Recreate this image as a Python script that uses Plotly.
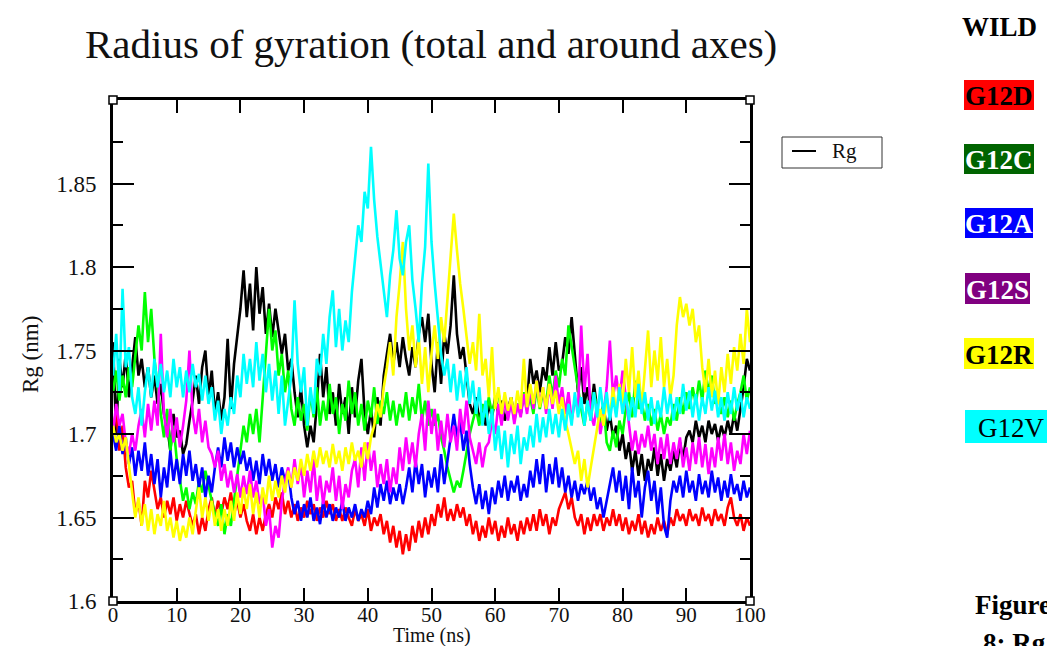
import plotly.graph_objects as go

# ---------------- data (0.5 ns sampling) ----------------
time_ns = [i * 0.5 for i in range(201)]

wild = [
    1.755, 1.700, 1.745, 1.728, 1.748, 1.722, 1.740, 1.758, 1.735, 1.745,
    1.728, 1.740, 1.722, 1.735, 1.718, 1.730, 1.712, 1.705, 1.690, 1.712,
    1.698, 1.702, 1.688, 1.694, 1.708, 1.720, 1.735, 1.718, 1.740, 1.750,
    1.722, 1.738, 1.712, 1.725, 1.708, 1.722, 1.757, 1.715, 1.742, 1.760,
    1.775, 1.798, 1.770, 1.790, 1.762, 1.800, 1.772, 1.788, 1.760, 1.778,
    1.758, 1.775, 1.762, 1.748, 1.760, 1.738, 1.745, 1.725, 1.710, 1.728,
    1.705, 1.692, 1.705, 1.695, 1.718, 1.748, 1.722, 1.740, 1.712, 1.725,
    1.705, 1.730, 1.712, 1.722, 1.700, 1.728, 1.710, 1.732, 1.745, 1.712,
    1.700, 1.715, 1.698, 1.722, 1.705, 1.735, 1.748, 1.760, 1.742, 1.755,
    1.740, 1.758, 1.745, 1.735, 1.752, 1.740, 1.760, 1.770, 1.755, 1.772,
    1.742, 1.725, 1.755, 1.730, 1.760, 1.748, 1.765, 1.795, 1.760, 1.745,
    1.752, 1.735, 1.718, 1.712, 1.722, 1.708, 1.716, 1.705, 1.718, 1.710,
    1.722, 1.712, 1.720, 1.708, 1.715, 1.722, 1.710, 1.718, 1.712, 1.725,
    1.718, 1.745, 1.730, 1.738, 1.725, 1.740, 1.732, 1.752, 1.735, 1.755,
    1.738, 1.742, 1.758, 1.748, 1.770, 1.745, 1.725, 1.740, 1.718, 1.728,
    1.712, 1.730, 1.715, 1.708, 1.718, 1.702, 1.712, 1.698, 1.705, 1.690,
    1.700, 1.685, 1.695, 1.678, 1.690, 1.675, 1.688, 1.672, 1.685, 1.678,
    1.692, 1.675, 1.688, 1.672, 1.685, 1.678, 1.690, 1.680, 1.695, 1.685,
    1.698, 1.702, 1.695, 1.708, 1.698, 1.705, 1.695, 1.708, 1.700, 1.706,
    1.696, 1.705, 1.698, 1.708, 1.700, 1.712, 1.702, 1.715, 1.728, 1.745,
    1.738,
]

g12d = [
    1.700, 1.715, 1.690, 1.705, 1.680, 1.668, 1.672, 1.652, 1.660, 1.645,
    1.672, 1.662, 1.678, 1.665, 1.655, 1.662, 1.650, 1.660, 1.652, 1.662,
    1.648, 1.658, 1.650, 1.660, 1.652, 1.645, 1.652, 1.640, 1.650, 1.642,
    1.655, 1.662, 1.650, 1.660, 1.652, 1.662, 1.655, 1.665, 1.652, 1.660,
    1.650, 1.658, 1.648, 1.642, 1.652, 1.640, 1.650, 1.642, 1.652, 1.658,
    1.650, 1.662, 1.655, 1.665, 1.652, 1.660, 1.650, 1.658, 1.648, 1.656,
    1.650, 1.660, 1.652, 1.658, 1.648, 1.656, 1.650, 1.660, 1.652, 1.658,
    1.648, 1.655, 1.648, 1.656, 1.650, 1.645, 1.655, 1.648, 1.652, 1.645,
    1.655, 1.642, 1.650, 1.645, 1.652, 1.640, 1.648, 1.635, 1.645, 1.632,
    1.642, 1.628, 1.640, 1.630, 1.645, 1.635, 1.648, 1.638, 1.650, 1.640,
    1.652, 1.645, 1.658, 1.650, 1.662, 1.648, 1.655, 1.648, 1.658, 1.650,
    1.656, 1.645, 1.652, 1.640, 1.648, 1.636, 1.645, 1.638, 1.650, 1.640,
    1.648, 1.636, 1.645, 1.638, 1.650, 1.640, 1.646, 1.636, 1.648, 1.640,
    1.650, 1.642, 1.652, 1.642, 1.655, 1.645, 1.652, 1.640, 1.650, 1.645,
    1.655, 1.660, 1.665, 1.655, 1.662, 1.650, 1.645, 1.652, 1.640, 1.650,
    1.642, 1.652, 1.645, 1.652, 1.642, 1.650, 1.645, 1.655, 1.645, 1.652,
    1.642, 1.650, 1.640, 1.648, 1.642, 1.652, 1.640, 1.648, 1.638, 1.646,
    1.640, 1.650, 1.642, 1.648, 1.640, 1.650, 1.645, 1.655, 1.648, 1.652,
    1.645, 1.655, 1.648, 1.652, 1.645, 1.656, 1.648, 1.652, 1.645, 1.655,
    1.648, 1.652, 1.645, 1.656, 1.662, 1.650, 1.645, 1.652, 1.642, 1.650,
    1.645,
]

g12c = [
    1.725, 1.738, 1.720, 1.735, 1.722, 1.740, 1.728, 1.745, 1.765, 1.750,
    1.785, 1.755, 1.775, 1.745, 1.728, 1.712, 1.698, 1.715, 1.690, 1.705,
    1.685, 1.672, 1.660, 1.668, 1.655, 1.665, 1.658, 1.672, 1.665, 1.678,
    1.668, 1.660, 1.652, 1.645, 1.658, 1.640, 1.652, 1.645, 1.660, 1.675,
    1.690, 1.705, 1.695, 1.712, 1.700, 1.715, 1.695, 1.725, 1.748, 1.775,
    1.750, 1.762, 1.735, 1.748, 1.725, 1.738, 1.715, 1.705, 1.722, 1.708,
    1.718, 1.702, 1.725, 1.710, 1.728, 1.705, 1.720, 1.708, 1.730, 1.712,
    1.722, 1.700, 1.718, 1.708, 1.732, 1.712, 1.725, 1.705, 1.718, 1.702,
    1.720, 1.710, 1.728, 1.706, 1.720, 1.712, 1.725, 1.708, 1.720, 1.705,
    1.718, 1.710, 1.725, 1.708, 1.722, 1.712, 1.730, 1.708, 1.720, 1.705,
    1.715, 1.705, 1.712, 1.698, 1.690, 1.680, 1.672, 1.665, 1.672, 1.668,
    1.678, 1.690, 1.700, 1.708, 1.715, 1.705, 1.718, 1.710, 1.722, 1.712,
    1.720, 1.725, 1.712, 1.722, 1.710, 1.720, 1.708, 1.718, 1.712, 1.725,
    1.715, 1.722, 1.712, 1.728, 1.715, 1.725, 1.718, 1.735, 1.722, 1.738,
    1.728, 1.745, 1.735, 1.765, 1.752, 1.740, 1.725, 1.715, 1.705, 1.720,
    1.708, 1.725, 1.715, 1.705, 1.718, 1.695, 1.690, 1.702, 1.692, 1.708,
    1.700, 1.715, 1.725, 1.710, 1.732, 1.715, 1.720, 1.708, 1.718, 1.705,
    1.715, 1.702, 1.712, 1.700, 1.710, 1.705, 1.718, 1.708, 1.722, 1.712,
    1.725, 1.715, 1.728, 1.718, 1.732, 1.720, 1.738, 1.725, 1.735, 1.718,
    1.725, 1.712, 1.722, 1.710, 1.720, 1.708, 1.718, 1.725, 1.735, 1.720,
    1.728,
]

g12a = [
    1.700, 1.690, 1.705, 1.688, 1.698, 1.682, 1.692, 1.675, 1.690, 1.678,
    1.695, 1.675, 1.688, 1.670, 1.685, 1.662, 1.680, 1.668, 1.690, 1.672,
    1.685, 1.670, 1.688, 1.675, 1.690, 1.672, 1.682, 1.668, 1.680, 1.662,
    1.675, 1.665, 1.680, 1.692, 1.680, 1.698, 1.684, 1.695, 1.680, 1.692,
    1.682, 1.690, 1.678, 1.686, 1.672, 1.684, 1.670, 1.688, 1.675, 1.685,
    1.672, 1.682, 1.668, 1.680, 1.672, 1.678, 1.662, 1.652, 1.660, 1.648,
    1.658, 1.650, 1.662, 1.648, 1.656, 1.646, 1.660, 1.650, 1.658, 1.648,
    1.656, 1.650, 1.660, 1.648, 1.656, 1.650, 1.658, 1.648, 1.655, 1.650,
    1.660, 1.652, 1.668, 1.656, 1.670, 1.660, 1.672, 1.658, 1.668, 1.660,
    1.670, 1.658, 1.668, 1.680, 1.665, 1.684, 1.670, 1.682, 1.662, 1.678,
    1.668, 1.680, 1.665, 1.688, 1.670, 1.684, 1.695, 1.712, 1.698, 1.708,
    1.690, 1.702, 1.682, 1.668, 1.658, 1.670, 1.655, 1.666, 1.652, 1.668,
    1.658, 1.672, 1.662, 1.675, 1.660, 1.672, 1.665, 1.675, 1.660, 1.670,
    1.662, 1.678, 1.668, 1.685, 1.670, 1.688, 1.665, 1.682, 1.670, 1.686,
    1.668, 1.680, 1.665, 1.675, 1.662, 1.672, 1.660, 1.670, 1.664, 1.672,
    1.660, 1.668, 1.655, 1.662, 1.650, 1.660, 1.668, 1.680, 1.665, 1.678,
    1.660, 1.675, 1.655, 1.680, 1.662, 1.672, 1.650, 1.668, 1.678, 1.660,
    1.672, 1.652, 1.668, 1.645, 1.638, 1.660, 1.672, 1.665, 1.675, 1.662,
    1.678, 1.665, 1.672, 1.660, 1.676, 1.664, 1.672, 1.662, 1.678, 1.665,
    1.674, 1.660, 1.672, 1.662, 1.676, 1.664, 1.670, 1.660, 1.672, 1.662,
    1.668,
]

g12s = [
    1.700, 1.718, 1.705, 1.712, 1.695, 1.688, 1.700, 1.690, 1.705, 1.715,
    1.698, 1.718, 1.702, 1.720, 1.705, 1.760, 1.712, 1.698, 1.715, 1.695,
    1.710, 1.692, 1.705, 1.720, 1.750, 1.712, 1.700, 1.715, 1.695, 1.708,
    1.692, 1.688, 1.680, 1.690, 1.672, 1.682, 1.668, 1.678, 1.665, 1.676,
    1.662, 1.675, 1.664, 1.678, 1.662, 1.672, 1.658, 1.665, 1.645, 1.655,
    1.632, 1.645, 1.638, 1.660, 1.672, 1.680, 1.668, 1.685, 1.670, 1.682,
    1.662, 1.678, 1.665, 1.685, 1.660, 1.675, 1.658, 1.672, 1.665, 1.680,
    1.660, 1.675, 1.655, 1.670, 1.662, 1.678, 1.685, 1.668, 1.692, 1.672,
    1.695, 1.678, 1.690, 1.668, 1.682, 1.670, 1.685, 1.665, 1.680, 1.670,
    1.692, 1.678, 1.698, 1.682, 1.695, 1.680, 1.700, 1.712, 1.690, 1.720,
    1.700, 1.715, 1.690, 1.708, 1.692, 1.712, 1.695, 1.705, 1.690, 1.715,
    1.700, 1.720, 1.698, 1.690, 1.682, 1.695, 1.680, 1.692, 1.695, 1.708,
    1.700, 1.718, 1.705, 1.722, 1.708, 1.720, 1.706, 1.718, 1.710, 1.724,
    1.712, 1.728, 1.715, 1.732, 1.718, 1.728, 1.712, 1.730, 1.715, 1.735,
    1.718, 1.728, 1.712, 1.725, 1.708, 1.720, 1.715, 1.765, 1.725, 1.748,
    1.712, 1.705, 1.718, 1.700, 1.712, 1.728, 1.756, 1.722, 1.735, 1.720,
    1.738, 1.722, 1.705, 1.690, 1.702, 1.688, 1.700, 1.692, 1.705, 1.690,
    1.700, 1.682, 1.698, 1.685, 1.700, 1.682, 1.695, 1.685, 1.698, 1.680,
    1.692, 1.678, 1.695, 1.682, 1.698, 1.680, 1.694, 1.676, 1.692, 1.680,
    1.698, 1.684, 1.700, 1.682, 1.695, 1.678, 1.690, 1.682, 1.700, 1.688,
    1.702,
]

g12r = [
    1.705, 1.695, 1.700, 1.690, 1.698, 1.680, 1.665, 1.650, 1.662, 1.645,
    1.658, 1.642, 1.655, 1.640, 1.652, 1.645, 1.660, 1.642, 1.650, 1.638,
    1.648, 1.636, 1.645, 1.638, 1.650, 1.640, 1.655, 1.668, 1.650, 1.662,
    1.648, 1.660, 1.645, 1.655, 1.642, 1.655, 1.645, 1.660, 1.648, 1.665,
    1.652, 1.668, 1.655, 1.670, 1.652, 1.665, 1.650, 1.668, 1.658, 1.675,
    1.660, 1.672, 1.662, 1.675, 1.665, 1.678, 1.668, 1.680, 1.672, 1.685,
    1.675, 1.688, 1.678, 1.690, 1.680, 1.692, 1.682, 1.690, 1.680, 1.694,
    1.682, 1.690, 1.678, 1.692, 1.682, 1.695, 1.684, 1.690, 1.680, 1.695,
    1.685, 1.698, 1.705, 1.718, 1.710, 1.728, 1.740, 1.755, 1.735, 1.770,
    1.790, 1.815, 1.775, 1.750, 1.765, 1.740, 1.758, 1.730, 1.752, 1.725,
    1.748, 1.765, 1.745, 1.770, 1.755, 1.780, 1.805, 1.832, 1.810, 1.790,
    1.775, 1.760, 1.742, 1.755, 1.738, 1.772, 1.735, 1.745, 1.722, 1.752,
    1.715, 1.728, 1.712, 1.725, 1.714, 1.722, 1.712, 1.726, 1.715, 1.745,
    1.716, 1.730, 1.718, 1.732, 1.716, 1.728, 1.715, 1.730, 1.718, 1.726,
    1.712, 1.722, 1.708, 1.700, 1.690, 1.682, 1.690, 1.672, 1.685, 1.668,
    1.680, 1.692, 1.702, 1.715, 1.705, 1.722, 1.710, 1.728, 1.712, 1.730,
    1.718, 1.745, 1.725, 1.752, 1.722, 1.738, 1.715, 1.740, 1.762, 1.728,
    1.750, 1.732, 1.758, 1.728, 1.745, 1.722, 1.735, 1.765, 1.782, 1.770,
    1.778, 1.765, 1.775, 1.755, 1.765, 1.740, 1.725, 1.745, 1.722, 1.738,
    1.718, 1.740, 1.725, 1.748, 1.730, 1.752, 1.738, 1.760, 1.742, 1.775,
    1.755,
]

g12v = [
    1.735, 1.760, 1.725, 1.787, 1.740, 1.752, 1.722, 1.712, 1.728, 1.705,
    1.725, 1.740, 1.722, 1.745, 1.728, 1.742, 1.725, 1.738, 1.722, 1.745,
    1.728, 1.740, 1.722, 1.738, 1.725, 1.742, 1.728, 1.736, 1.720, 1.735,
    1.718, 1.728, 1.708, 1.720, 1.700, 1.715, 1.705, 1.722, 1.712, 1.735,
    1.722, 1.748, 1.730, 1.745, 1.728, 1.755, 1.732, 1.748, 1.725, 1.742,
    1.720, 1.738, 1.712, 1.735, 1.705, 1.722, 1.735, 1.780, 1.742, 1.725,
    1.740, 1.705, 1.728, 1.712, 1.745, 1.735, 1.760, 1.742, 1.770, 1.786,
    1.752, 1.775, 1.750, 1.768, 1.755, 1.785, 1.805, 1.825, 1.815, 1.845,
    1.835, 1.872, 1.840, 1.818, 1.802, 1.785, 1.770, 1.795, 1.810, 1.834,
    1.805, 1.795, 1.815, 1.825, 1.792, 1.775, 1.755, 1.790, 1.812, 1.862,
    1.815, 1.790, 1.768, 1.748, 1.735, 1.745, 1.725, 1.742, 1.720, 1.738,
    1.722, 1.740, 1.718, 1.732, 1.712, 1.728, 1.705, 1.720, 1.700, 1.715,
    1.690, 1.705, 1.685, 1.702, 1.680, 1.700, 1.688, 1.705, 1.682, 1.698,
    1.690, 1.705, 1.692, 1.712, 1.695, 1.710, 1.698, 1.715, 1.700, 1.712,
    1.698, 1.715, 1.702, 1.718, 1.705, 1.725, 1.710, 1.722, 1.705, 1.720,
    1.708, 1.725, 1.710, 1.728, 1.712, 1.725, 1.708, 1.722, 1.710, 1.728,
    1.712, 1.725, 1.708, 1.722, 1.710, 1.730, 1.712, 1.725, 1.708, 1.722,
    1.706, 1.720, 1.710, 1.728, 1.712, 1.724, 1.708, 1.722, 1.712, 1.730,
    1.714, 1.726, 1.710, 1.724, 1.708, 1.722, 1.712, 1.728, 1.714, 1.726,
    1.710, 1.722, 1.708, 1.725, 1.712, 1.728, 1.714, 1.725, 1.710, 1.722,
    1.715,
]

series_names = ["WILD", "G12D", "G12C", "G12A", "G12S", "G12R", "G12V"]
series_values = [wild, g12d, g12c, g12a, g12s, g12r, g12v]
series_colors = ["#000000", "#ff0000", "#00ff00", "#0000ff", "#ff00ff", "#ffff00", "#00ffff"]

y_tick_vals = [1.6, 1.65, 1.7, 1.75, 1.8, 1.85]
y_tick_text = ["1.6", "1.65", "1.7", "1.75", "1.8", "1.85"]
x_tick_vals = [0, 10, 20, 30, 40, 50, 60, 70, 80, 90, 100]

# right-hand key boxes: label, background, text colour, bold
key_labels = ["WILD", "G12D", "G12C", "G12A", "G12S", "G12R", "G12V"]
key_bg = [None, "#ff0000", "#006400", "#0000ff", "#800080", "#ffff00", "#00ffff"]
key_fg = ["#000000", "#000000", "#ffffff", "#ffffff", "#ffffff", "#000000", "#000000"]
key_bold = [True, True, True, True, True, True, False]

# ---------------- layout geometry (pixels) ----------------
W, H = 1047, 646
L, R, T, B = 113, 750, 100, 601
SERIF = "Liberation Serif, Times New Roman, serif"


def fx(px):
    return (px - L) / (R - L)


def fy(py):
    return (B - py) / (B - T)


fig = go.Figure()
for name, vals, col in zip(series_names, series_values, series_colors):
    fig.add_trace(go.Scatter(
        x=time_ns, y=vals, mode="lines", name=name,
        line=dict(color=col, width=2.6), showlegend=False, hoverinfo="skip",
    ))

axis_common = dict(
    showgrid=False, zeroline=False, showline=True, linecolor="#000000", linewidth=3,
    mirror="ticks", ticks="inside", tickcolor="#000000",
)

fig.update_xaxes(
    range=[0, 100], tickmode="array", tickvals=x_tick_vals,
    ticklen=13, tickwidth=1.5, ticklabelstandoff=-7,
    tickfont=dict(family=SERIF, size=21, color="#111111"), **axis_common,
)
fig.update_yaxes(
    range=[1.6, 1.9], tickmode="array", tickvals=y_tick_vals, ticktext=y_tick_text,
    ticklen=21, tickwidth=1.5, ticklabelstandoff=9,
    tickfont=dict(family=SERIF, size=23, color="#111111"),
    minor=dict(tickmode="linear", tick0=1.6, dtick=0.025, ticks="inside",
               ticklen=10, tickwidth=1.5, tickcolor="#000000", showgrid=False),
    **axis_common,
)

shapes = []
annotations = []

# legend box "— Rg"
shapes.append(dict(type="rect", xref="paper", yref="paper",
                   x0=fx(782), x1=fx(882), y0=fy(168), y1=fy(137),
                   line=dict(color="#333333", width=1), fillcolor="#ffffff", layer="above"))
shapes.append(dict(type="line", xref="paper", yref="paper",
                   x0=fx(792), x1=fx(816), y0=fy(151), y1=fy(151),
                   line=dict(color="#000000", width=2)))
annotations.append(dict(text="Rg", xref="paper", yref="paper", x=fx(830), y=fy(151),
                        xanchor="left", yanchor="middle", showarrow=False,
                        font=dict(family=SERIF, size=21, color="#111111")))

# corner handles
for cx, cy in [(L, T), (R, T), (L, B), (R, B)]:
    shapes.append(dict(type="rect", xref="paper", yref="paper",
                       x0=fx(cx - 4), x1=fx(cx + 4), y0=fy(cy + 4), y1=fy(cy - 4),
                       line=dict(color="#000000", width=1.5), fillcolor="#ffffff", layer="above"))

# title and axis titles
annotations.append(dict(text="Radius of gyration (total and around axes)", xref="paper", yref="paper",
                        x=fx(431), y=fy(44), xanchor="center", yanchor="middle", showarrow=False,
                        font=dict(family=SERIF, size=41, color="#111111")))
annotations.append(dict(text="Time (ns)", xref="paper", yref="paper",
                        x=fx(432), y=fy(635), xanchor="center", yanchor="middle", showarrow=False,
                        font=dict(family=SERIF, size=20, color="#111111")))
annotations.append(dict(text="Rg (nm)", xref="paper", yref="paper",
                        x=fx(30), y=fy(355), xanchor="center", yanchor="middle", showarrow=False,
                        textangle=-90, font=dict(family=SERIF, size=23, color="#111111")))

# right-hand key
key_boxes = [
    (964, 1034, 12, 40),
    (964, 1034, 80, 110),
    (964, 1034, 144, 174),
    (965, 1033, 208, 238),
    (965, 1030, 273, 304),
    (964, 1034, 338, 369),
    (965, 1052, 410, 443),
]
for lab, bg, fg, bold, (x0, x1, y0, y1) in zip(key_labels, key_bg, key_fg, key_bold, key_boxes):
    if bg is not None:
        shapes.append(dict(type="rect", xref="paper", yref="paper",
                           x0=fx(x0), x1=fx(x1), y0=fy(y1), y1=fy(y0),
                           line=dict(width=0), fillcolor=bg))
    txt = "<b>%s</b>" % lab if bold else lab
    xc = (x0 + x1) / 2 if lab != "G12V" else 1011
    annotations.append(dict(text=txt, xref="paper", yref="paper",
                            x=fx(xc), y=fy((y0 + y1) / 2 + 1), xanchor="center", yanchor="middle",
                            showarrow=False, font=dict(family=SERIF, size=27, color=fg)))

annotations.append(dict(text="<b>Figure</b>", xref="paper", yref="paper",
                        x=fx(973), y=fy(605), xanchor="left", yanchor="middle", showarrow=False,
                        font=dict(family=SERIF, size=27, color="#000000")))
annotations.append(dict(text="<b>8: Rg</b>", xref="paper", yref="paper",
                        x=fx(981), y=fy(643), xanchor="left", yanchor="middle", showarrow=False,
                        font=dict(family=SERIF, size=27, color="#000000")))

fig.update_layout(
    width=W, height=H, autosize=False,
    margin=dict(l=L, r=W - R, t=T, b=H - B, pad=0),
    paper_bgcolor="#ffffff", plot_bgcolor="#ffffff",
    shapes=shapes, annotations=annotations, hovermode=False,
)

fig.write_html("out.html", config={"displayModeBar": False})
